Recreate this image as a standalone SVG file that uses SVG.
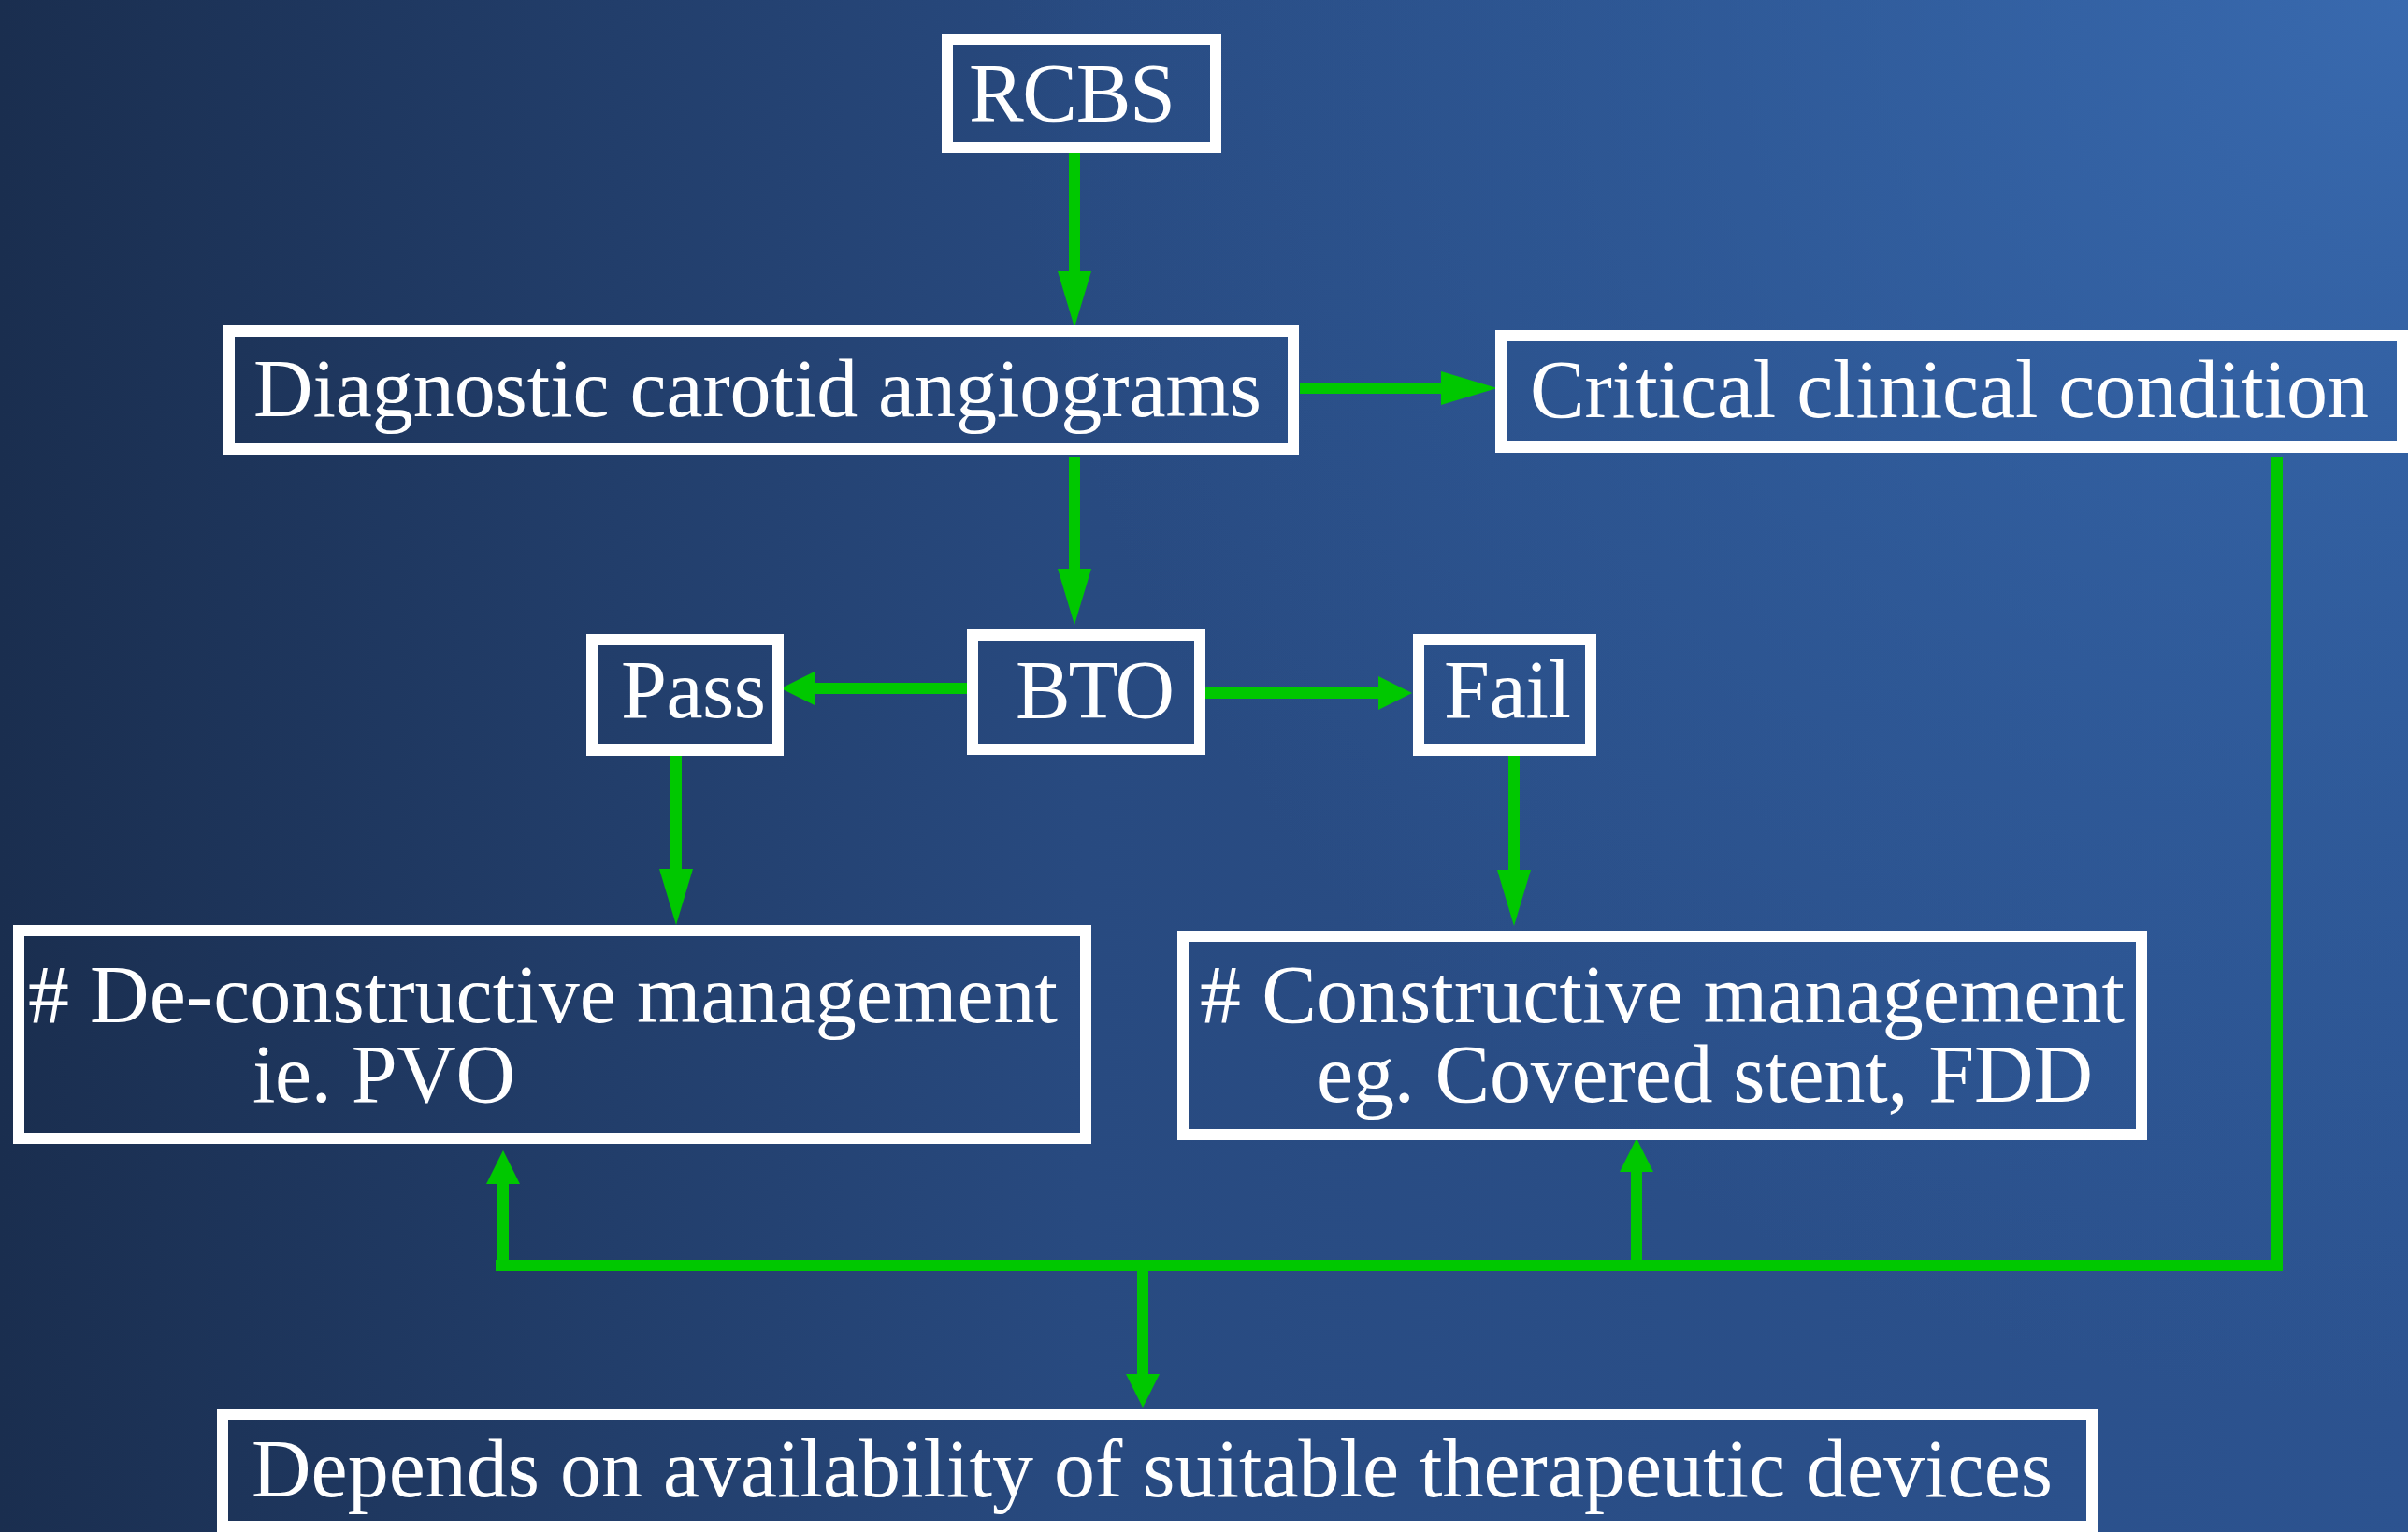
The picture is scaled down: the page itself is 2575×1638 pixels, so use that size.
<svg xmlns="http://www.w3.org/2000/svg" width="2575" height="1638" viewBox="0 0 2575 1638">
<defs>
<linearGradient id="bg" x1="0" y1="0" x2="1" y2="0">
<stop offset="0" stop-color="#1a2e4f"/>
<stop offset="0.45" stop-color="#284a80"/>
<stop offset="1" stop-color="#2c5390"/>
</linearGradient>
<radialGradient id="glow" cx="2575" cy="0" r="1500" gradientUnits="userSpaceOnUse">
<stop offset="0" stop-color="#3a6cb2" stop-opacity="0.9"/>
<stop offset="0.6" stop-color="#3466aa" stop-opacity="0.35"/>
<stop offset="1" stop-color="#3466aa" stop-opacity="0"/>
</radialGradient>
<marker id="headL" markerUnits="userSpaceOnUse" markerWidth="60" markerHeight="36" viewBox="0 0 60 36" refX="0" refY="18" orient="auto" overflow="visible">
<path d="M0,0 L60,18 L0,36 z" fill="#00c800"/>
</marker>
<marker id="headS" markerUnits="userSpaceOnUse" markerWidth="36" markerHeight="36" viewBox="0 0 36 36" refX="0" refY="18" orient="auto" overflow="visible">
<path d="M0,0 L36,18 L0,36 z" fill="#00c800"/>
</marker>
</defs>
<style>
.box{fill:none;stroke:#ffffff;stroke-width:12}
.t{font-family:"Liberation Serif","Times New Roman",serif;font-size:88px;fill:#ffffff}
.c{fill:none;stroke:#00c800;stroke-width:12}
</style>
<rect x="0" y="0" width="2575" height="1638" fill="url(#bg)"/>
<rect x="0" y="0" width="2575" height="1638" fill="url(#glow)"/>

<g id="connectors">
<line class="c" x1="1149" y1="164" x2="1149" y2="290" marker-end="url(#headL)"/>
<line class="c" x1="1390" y1="415" x2="1541" y2="415" marker-end="url(#headL)"/>
<line class="c" x1="1149" y1="489" x2="1149" y2="608" marker-end="url(#headL)"/>
<line class="c" x1="1034" y1="736" x2="871" y2="736" marker-end="url(#headS)"/>
<line class="c" x1="1289" y1="741" x2="1474" y2="741" marker-end="url(#headS)"/>
<line class="c" x1="723" y1="808" x2="723" y2="929" marker-end="url(#headL)"/>
<line class="c" x1="1619" y1="808" x2="1619" y2="930" marker-end="url(#headL)"/>
<polyline class="c" points="2435,489 2435,1353 530,1353"/>
<line class="c" x1="538" y1="1347" x2="538" y2="1266" marker-end="url(#headS)"/>
<line class="c" x1="1750" y1="1347" x2="1750" y2="1253" marker-end="url(#headS)"/>
<line class="c" x1="1222" y1="1359" x2="1222" y2="1469" marker-end="url(#headS)"/>
</g>

<g id="rcbs">
<rect class="box" x="1013" y="42" width="287" height="116"/>
<text class="t" x="1036" y="129" textLength="221">RCBS</text>
</g>
<g id="diagnostic">
<rect class="box" x="245" y="354" width="1138" height="126"/>
<text class="t" x="271" y="445" textLength="1078">Diagnostic carotid angiograms</text>
</g>
<g id="critical">
<rect class="box" x="1605" y="359" width="964" height="119"/>
<text class="t" x="1636" y="446" textLength="897">Critical clinical condition</text>
</g>
<g id="bto">
<rect class="box" x="1040" y="679" width="243" height="122"/>
<text class="t" x="1086" y="767" textLength="170">BTO</text>
</g>
<g id="pass">
<rect class="box" x="633" y="684" width="199" height="118"/>
<text class="t" x="664" y="767" textLength="155">Pass</text>
</g>
<g id="fail">
<rect class="box" x="1517" y="684" width="184" height="118"/>
<text class="t" x="1544" y="767" textLength="136">Fail</text>
</g>
<g id="deconstructive">
<rect class="box" x="20" y="995" width="1141" height="222"/>
<text class="t" x="30" y="1093" textLength="1101"># De-constructive management</text>
<text class="t" x="270" y="1178" textLength="281">ie. PVO</text>
</g>
<g id="constructive">
<rect class="box" x="1265" y="1001" width="1025" height="212"/>
<text class="t" x="1283" y="1093" textLength="989"># Constructive management</text>
<text class="t" x="1408" y="1178" textLength="830">eg. Covered stent, FDD</text>
</g>
<g id="depends">
<rect class="box" x="238" y="1512" width="1999" height="120"/>
<text class="t" x="269" y="1600" textLength="1926">Depends on availability of suitable therapeutic devices</text>
</g>
</svg>
